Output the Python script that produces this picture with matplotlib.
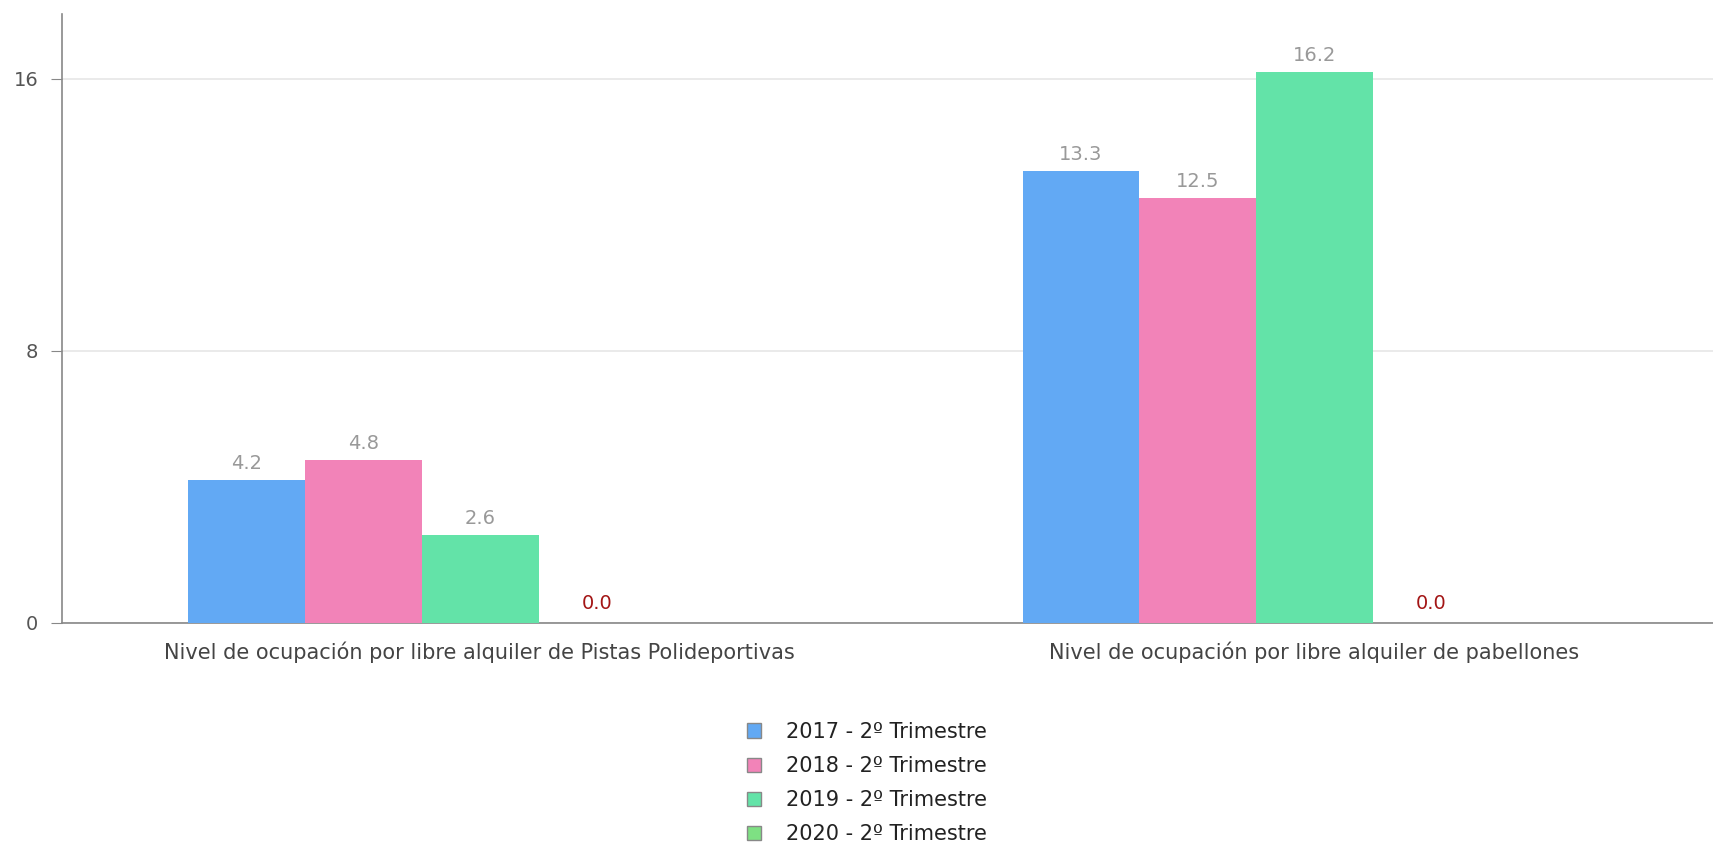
import numpy as np
import matplotlib.pyplot as plt

# datos
categorias = ['Nivel de ocupación por libre alquiler de Pistas Polideportivas',
              'Nivel de ocupación por libre alquiler de pabellones']
series = ['2017 - 2º Trimestre', '2018 - 2º Trimestre',
          '2019 - 2º Trimestre', '2020 - 2º Trimestre']
v2017 = [4.2, 13.3]
v2018 = [4.8, 12.5]
v2019 = [2.6, 16.2]
v2020 = [0.0, 0.0]
colores = ['#62a9f4', '#f283b8', '#63e3a8', '#7ee083']

valores = [v2017, v2018, v2019, v2020]

fig = plt.figure(figsize=(17.13, 8.43), dpi=100)
# el eje sigue un poco más allá del borde derecho
ax = fig.add_axes([0.0362, 0.261, 0.9743, 0.722])

x = np.arange(len(categorias))
ancho = 0.140
inicio = -0.349
for i, (vals, nombre, color) in enumerate(zip(valores, series, colores)):
    pos = x + inicio + ancho * (i + 0.5)
    ax.bar(pos, vals, width=ancho, color=color, label=nombre, zorder=3)
    for px, v in zip(pos, vals):
        col = '#a31515' if v == 0 else '#999999'
        off = 7 if v == 0 else 5
        ax.annotate(f'{v:.1f}', (px, v), xytext=(0, off), textcoords='offset points',
                    ha='center', va='bottom', fontsize=14, color=col)

ax.set_xlim(-0.5, 1.5)
ax.set_ylim(0, 17.9)
ax.set_yticks([0, 8, 16])
ax.set_xticks(x)
ax.set_xticklabels(categorias, fontsize=15, color='#444444')
ax.tick_params(axis='x', length=0, pad=13)
ax.tick_params(axis='y', length=8, color='#888888', labelcolor='#555555',
               labelsize=14, pad=9)
ax.grid(axis='y', color='#e6e6e6', linewidth=1.2, zorder=0)
for s in ['top', 'right']:
    ax.spines[s].set_visible(False)
ax.spines['left'].set_color('#888888')
ax.spines['bottom'].set_color('#888888')
ax.spines['left'].set_linewidth(1.2)
ax.spines['bottom'].set_linewidth(1.2)

leg = fig.legend(loc='lower left', bbox_to_anchor=(0.425, -0.024), frameon=False,
                 fontsize=15, handlelength=0.7, handleheight=0.7, handletextpad=1.2,
                 labelspacing=0.68)
for h in leg.legend_handles:
    h.set_edgecolor('#888888')
    h.set_linewidth(1)
for t in leg.get_texts():
    t.set_color('#222222')

fig.savefig('out.png', dpi=100)
